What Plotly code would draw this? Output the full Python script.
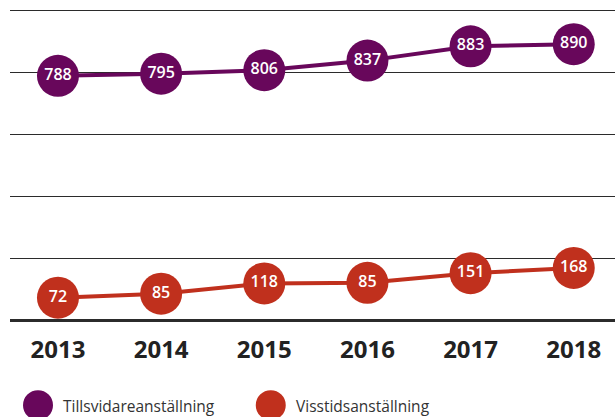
import plotly.graph_objects as go

years = ["2013", "2014", "2015", "2016", "2017", "2018"]
tillsvidare = [788, 795, 806, 837, 883, 890]
tillsvidare_labels = ["788", "795", "806", "837", "883", "890"]
# plotted positions (2016 point sits near 120 although labelled 85)
visstid = [72, 85, 118, 120, 151, 168]
visstid_labels = ["72", "85", "118", "85", "151", "168"]
series_names = ["Tillsvidareanställning", "Visstidsanställning"]
colors = ["#68075b", "#c0301d"]

fig = go.Figure()
for vals, labels, name, col in zip([tillsvidare, visstid], [tillsvidare_labels, visstid_labels],
                                   series_names, colors):
    fig.add_trace(go.Scatter(
        x=years, y=vals, name=name, mode="lines+markers+text",
        line=dict(color=col, width=4),
        marker=dict(color=col, size=42, line=dict(width=0)),
        text=labels, textposition="middle center",
        textfont=dict(color="white", size=16, family="Open Sans", weight=600),
        cliponaxis=False, showlegend=False,
    ))

# Legend drawn below the plot (paper y: 0 at pixel 320, 1 at pixel 7; height 313)
leg_x = [0.0463, 0.431]
for i, (name, col) in enumerate(zip(series_names, colors)):
    fig.add_shape(type="circle", xref="paper", yref="paper",
                  xsizemode="pixel", ysizemode="pixel",
                  xanchor=leg_x[i], yanchor=-0.272,
                  x0=-15, x1=15, y0=-15, y1=15,
                  fillcolor=col, line=dict(width=0))
    fig.add_annotation(xref="paper", yref="paper", x=leg_x[i], y=-0.275,
                       xshift=23, text=name, showarrow=False,
                       xanchor="left", yanchor="middle",
                       font=dict(size=15.5, color="#333333", family="Open Sans"))

fig.update_layout(
    width=615, height=417,
    margin=dict(l=10, r=0, t=7, b=97),
    plot_bgcolor="white", paper_bgcolor="white",
    xaxis=dict(type="category", range=[-0.465, 5.4], showgrid=False,
               showline=False, zeroline=False,
               tickfont=dict(size=24, color="#222222", family="Open Sans", weight=700),
               ticks="outside", ticklen=8, tickcolor="rgba(0,0,0,0)"),
    yaxis=dict(range=[0, 1010], tickvals=[0, 200, 400, 600, 800, 1000],
               showticklabels=False, showgrid=True, gridcolor="#2b2b2b",
               gridwidth=1, zeroline=True, zerolinecolor="#2b2b2b",
               zerolinewidth=2.5, showline=False),
)
fig.write_html("out.html")
